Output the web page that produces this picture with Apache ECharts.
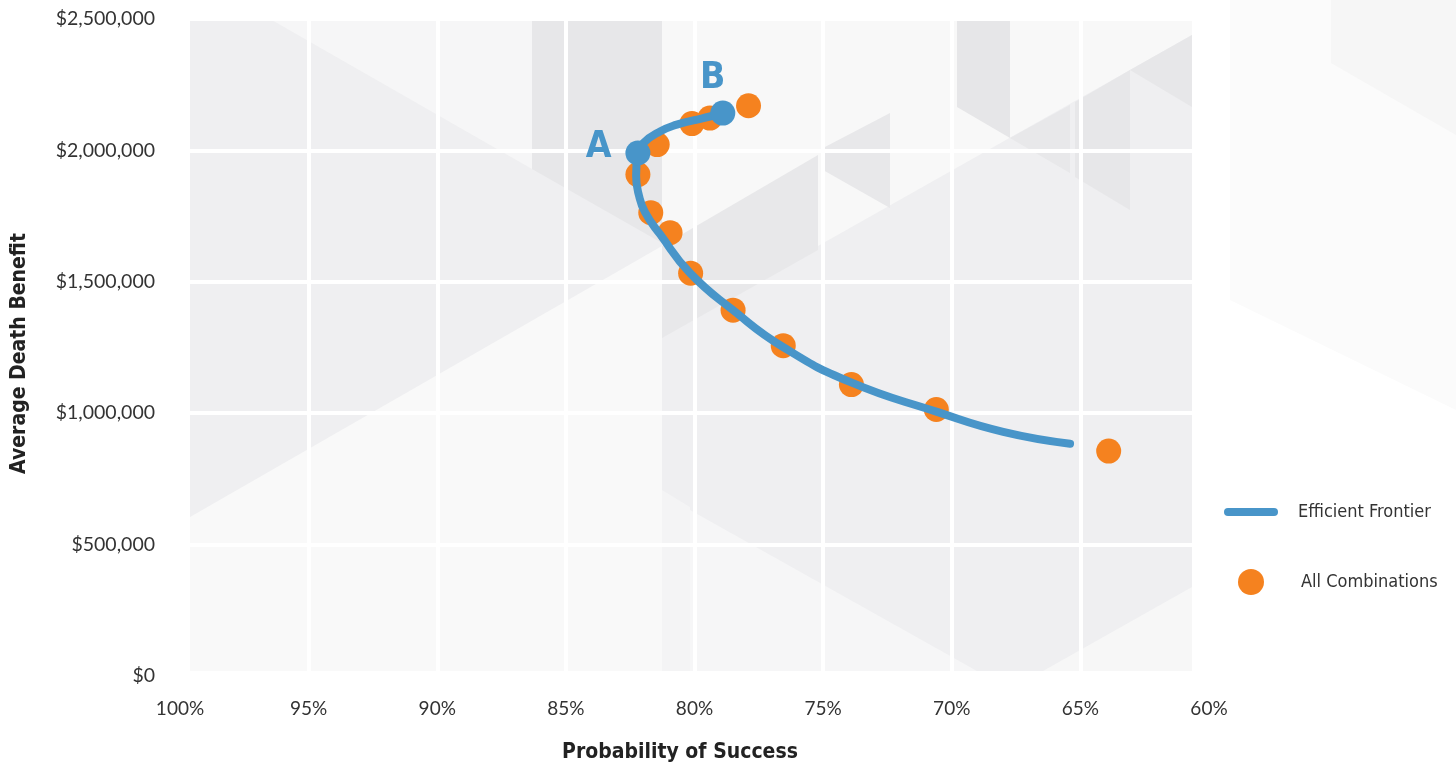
<!DOCTYPE html>
<html>
<head>
<meta charset="utf-8">
<script src="https://cdn.jsdelivr.net/npm/echarts@6/dist/echarts.min.js"></script>
<style>
  html, body { margin: 0; padding: 0; background: #ffffff; }
  #chart { width: 1456px; height: 768px; }
</style>
</head>
<body>
<div id="chart"></div>
<script>
// Axis ranges and ticks
const successTicks = [100, 95, 90, 85, 80, 75, 70, 65, 60];
const benefitTicks = [0, 500000, 1000000, 1500000, 2000000, 2500000];

// All policy combinations (probability of success %, average death benefit $)
const comboSuccess = [77.9, 79.4, 80.1, 81.45, 82.2, 81.7, 80.95, 80.15, 78.5, 76.55, 73.9, 70.6, 63.9];
const comboBenefit = [2170000, 2123000, 2102000, 2022000, 1908000, 1763000, 1687000, 1533000, 1392000, 1257000, 1109000, 1014000, 856000];

// Efficient frontier, traced from B through A down to the low-probability end
const frontierSuccess = [78.9, 79.4, 80.05, 80.69, 81.34, 81.99, 82.2, 82.27, 82.16, 81.92, 81.34, 80.17, 78.5, 76.56, 73.96, 70.57, 68.0, 65.4];
const frontierBenefit = [2142000, 2129000, 2114000, 2098000, 2072000, 2028000, 1990000, 1904000, 1829000, 1764000, 1681000, 1533000, 1392000, 1252000, 1119000, 1005000, 929000, 884000];

// Highlighted frontier points
const endpointNames = ['A', 'B'];
const endpointSuccess = [82.2, 78.9];
const endpointBenefit = [1990000, 2142000];

const BLUE = '#4895c9';
const ORANGE = '#f5821f';
const TICK_FONT = 'Lato, "Open Sans", sans-serif';
const COND_FONT = '"Liberation Sans Narrow", "DejaVu Sans Condensed", Roboto, sans-serif';

const zip = (xs, ys) => xs.map((x, i) => [x, ys[i]]);

// Soft faceted backdrop behind the plotting area
const shade = (points, fill) => ({
  type: 'polygon', silent: true, z: -10,
  shape: { points }, style: { fill }
});
const backdrop = [
  shade([[1230, 0], [1456, 0], [1456, 410], [1230, 300]], '#fbfbfb'),
  shade([[1331, 0], [1456, 0], [1456, 135], [1331, 63]], '#f6f6f6'),
  shade([[190, 19], [1192, 19], [1192, 671], [190, 671]], '#efeff1'),
  shade([[270, 19], [532, 19], [532, 169]], '#f6f6f7'),
  shade([[532, 19], [662, 19], [662, 243], [532, 169]], '#e7e7e9'),
  shade([[190, 517], [662, 246], [662, 671], [190, 671]], '#f9f9f9'),
  shade([[662, 490], [690, 507], [690, 671], [662, 671]], '#f4f4f5'),
  shade([[662, 19], [1192, 19], [1192, 35], [662, 334]], '#f8f8f8'),
  shade([[662, 246], [818, 155], [818, 250], [662, 338]], '#e8e8ea'),
  shade([[823, 148], [890, 113], [890, 208], [823, 170]], '#e8e8ea'),
  shade([[957, 19], [1010, 19], [1010, 138], [957, 107]], '#e6e6e8'),
  shade([[1010, 138], [1070, 105], [1070, 173]], '#e8e8ea'),
  shade([[1075, 102], [1130, 70], [1130, 210], [1075, 177]], '#e7e7e9'),
  shade([[1130, 70], [1192, 35], [1192, 107]], '#e7e7e9'),
  shade([[690, 510], [977, 671], [690, 671]], '#f6f6f7'),
  shade([[1043, 671], [1192, 587], [1192, 671]], '#f7f7f7')
];

const chart = echarts.init(document.getElementById('chart'), null, { renderer: 'canvas' });

chart.setOption({
  backgroundColor: '#ffffff',
  animation: false,
  graphic: backdrop,
  grid: { left: 180, right: 247, top: 19, bottom: 90, containLabel: false },
  xAxis: {
    type: 'value',
    inverse: true,
    min: successTicks[successTicks.length - 1],
    max: successTicks[0],
    interval: 5,
    name: 'Probability of Success',
    nameLocation: 'middle',
    nameGap: 66,
    nameTextStyle: {
      fontFamily: COND_FONT, fontWeight: 'bold', fontSize: 21, color: '#222',
      padding: [0, 29, 0, 0]
    },
    axisLine: { show: false },
    axisTick: { show: false },
    axisLabel: {
      margin: 23, fontFamily: TICK_FONT, fontSize: 19, color: '#333',
      formatter: v => v + '%'
    },
    splitLine: { show: true, lineStyle: { color: '#ffffff', width: 4 } }
  },
  yAxis: {
    type: 'value',
    min: benefitTicks[0],
    max: benefitTicks[benefitTicks.length - 1],
    interval: 500000,
    name: 'Average Death Benefit',
    nameLocation: 'middle',
    nameRotate: 90,
    nameGap: 150,
    nameTextStyle: {
      fontFamily: COND_FONT, fontWeight: 'bold', fontSize: 21, color: '#222',
      padding: [0, 12, 0, 0]
    },
    axisLine: { show: false },
    axisTick: { show: false },
    axisLabel: {
      margin: 25, fontFamily: TICK_FONT, fontSize: 19.5, color: '#333',
      formatter: v => '$' + v.toLocaleString('en-US')
    },
    splitLine: { show: true, lineStyle: { color: '#ffffff', width: 4 } }
  },
  legend: [
    {
      left: 1224, top: 503, padding: 0,
      itemWidth: 54, itemHeight: 8,
      itemStyle: { borderWidth: 0 },
      textStyle: { fontFamily: COND_FONT, fontSize: 18, color: '#333', padding: [0, 0, 0, 15] },
      data: [{ name: 'Efficient Frontier', icon: 'path://M4,0H50A4,4,0,0,1,50,8H4A4,4,0,0,1,4,0Z', itemStyle: { color: BLUE } }]
    },
    {
      left: 1238, top: 569, padding: 0,
      itemWidth: 26, itemHeight: 26,
      itemStyle: { borderWidth: 0 },
      textStyle: { fontFamily: COND_FONT, fontSize: 18, color: '#333', padding: [0, 0, 0, 32] },
      data: [{ name: 'All Combinations', icon: 'circle', itemStyle: { color: ORANGE } }]
    }
  ],
  series: [
    {
      name: 'All Combinations',
      type: 'scatter',
      z: 2,
      symbol: 'circle',
      symbolSize: 25,
      itemStyle: { color: ORANGE, opacity: 1 },
      data: zip(comboSuccess, comboBenefit)
    },
    {
      name: 'Efficient Frontier',
      type: 'line',
      z: 3,
      smooth: 0.5,
      showSymbol: false,
      symbol: 'none',
      lineStyle: { color: BLUE, width: 8, cap: 'round', join: 'round' },
      itemStyle: { color: BLUE },
      data: zip(frontierSuccess, frontierBenefit)
    },
    {
      name: 'Frontier Points',
      type: 'scatter',
      z: 4,
      symbol: 'circle',
      symbolSize: 25,
      itemStyle: { color: BLUE, opacity: 1 },
      label: {
        show: true,
        formatter: '{b}',
        fontFamily: COND_FONT, fontWeight: 'bold', fontSize: 37, color: BLUE
      },
      data: endpointNames.map((n, i) => ({
        name: n,
        value: [endpointSuccess[i], endpointBenefit[i]],
        label: n === 'A'
          ? { position: 'left', distance: 14, offset: [0, -6] }
          : { position: 'top', distance: 4, offset: [-10, 0] }
      }))
    }
  ]
});
</script>
</body>
</html>
